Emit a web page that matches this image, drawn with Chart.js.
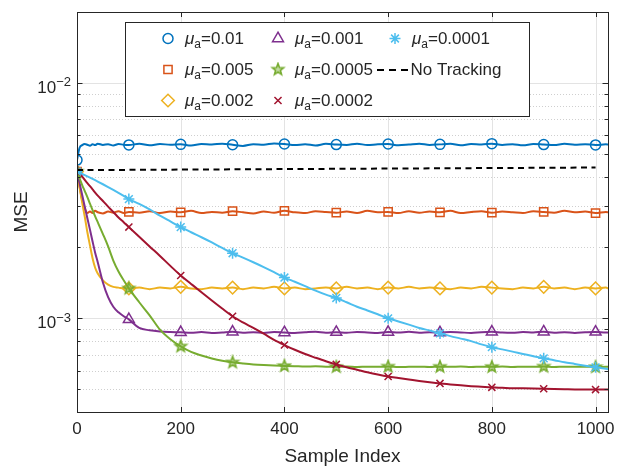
<!DOCTYPE html>
<html>
<head>
<meta charset="utf-8">
<script src="https://cdn.jsdelivr.net/npm/chart.js@4.4.0/dist/chart.umd.min.js"></script>
<style>
  html, body { margin: 0; padding: 0; background: #fff; }
  #wrap { width: 623px; height: 468px; }
</style>
</head>
<body>
<div id="wrap"><canvas id="mse-chart" width="623" height="468"></canvas></div>
<script>
// sample indices the curves were read at
var sampleIdx = [0,5,10,15,20,25,30,35,40,50,60,70,80,90,100,
  120,140,160,180,200,220,240,260,280,300,
  320,340,360,380,400,420,440,460,480,500,
  520,540,560,580,600,620,640,660,680,700,
  720,740,760,780,800,820,840,860,880,900,
  920,940,960,980,1000,1020,1024];

// MSE, in units of 1e-3
var mse_a001 = [4.70,5.30,5.44,5.50,5.46,5.41,5.49,5.44,5.52,5.45,5.49,5.42,5.50,5.46,5.45,
  5.51,5.43,5.50,5.46,5.48,5.42,5.50,5.47,5.52,5.46,
  5.40,5.49,5.46,5.53,5.50,5.44,5.49,5.42,5.51,5.47,
  5.45,5.52,5.44,5.49,5.50,5.43,5.47,5.52,5.45,5.48,
  5.51,5.43,5.50,5.47,5.52,5.45,5.49,5.43,5.50,5.47,
  5.44,5.51,5.46,5.49,5.45,5.48,5.47];
var mse_a0005 = [4.20,3.62,3.18,2.92,2.80,2.84,2.80,2.86,2.82,2.79,2.84,2.81,2.85,2.80,2.83,
  2.81,2.85,2.80,2.84,2.82,2.86,2.80,2.83,2.81,2.85,
  2.82,2.79,2.84,2.81,2.86,2.82,2.80,2.85,2.83,2.81,
  2.84,2.80,2.86,2.82,2.83,2.80,2.85,2.81,2.84,2.82,
  2.86,2.80,2.83,2.85,2.81,2.84,2.82,2.80,2.85,2.83,
  2.81,2.86,2.82,2.84,2.80,2.83,2.82];
var mse_a0002 = [4.20,3.60,3.10,2.70,2.32,2.04,1.80,1.64,1.55,1.45,1.39,1.36,1.35,1.34,1.34,
  1.35,1.33,1.35,1.34,1.36,1.34,1.33,1.35,1.34,1.35,
  1.33,1.35,1.34,1.36,1.34,1.35,1.33,1.34,1.35,1.34,
  1.36,1.34,1.35,1.33,1.35,1.34,1.36,1.34,1.35,1.34,
  1.33,1.35,1.34,1.36,1.35,1.34,1.33,1.35,1.34,1.36,
  1.34,1.35,1.33,1.35,1.34,1.35,1.34];
var mse_a0001 = [4.20,3.75,3.34,2.98,2.66,2.38,2.12,1.90,1.73,1.42,1.23,1.12,1.06,1.02,0.99,
  0.91,0.89,0.88,0.875,0.872,0.868,0.874,0.866,0.871,0.876,
  0.869,0.873,0.867,0.875,0.870,0.866,0.872,0.877,0.869,0.873,
  0.868,0.875,0.871,0.866,0.874,0.870,0.876,0.868,0.872,0.869,
  0.875,0.871,0.867,0.873,0.876,0.870,0.868,0.874,0.871,0.877,
  0.869,0.873,0.867,0.872,0.875,0.870,0.871];
var mse_a00005 = [4.20,3.93,3.68,3.47,3.27,3.07,2.88,2.71,2.56,2.28,2.02,1.76,1.58,1.45,1.34,
  1.17,1.03,0.895,0.815,0.76,0.72,0.695,0.675,0.66,0.65,
  0.643,0.637,0.633,0.630,0.628,0.626,0.624,0.625,0.623,0.622,
  0.624,0.621,0.623,0.622,0.624,0.621,0.622,0.623,0.621,0.623,
  0.622,0.624,0.621,0.623,0.622,0.624,0.621,0.623,0.622,0.624,
  0.621,0.623,0.622,0.623,0.621,0.622,0.622];
var mse_a00002 = [4.20,4.10,4.00,3.87,3.75,3.64,3.53,3.42,3.32,3.15,2.98,2.83,2.68,2.56,2.44,
  2.22,2.02,1.84,1.67,1.52,1.40,1.29,1.19,1.10,1.02,
  0.96,0.91,0.86,0.81,0.77,0.735,0.705,0.68,0.657,0.637,
  0.62,0.605,0.59,0.577,0.566,0.558,0.55,0.542,0.535,0.529,
  0.524,0.519,0.515,0.512,0.509,0.507,0.505,0.504,0.503,0.502,
  0.501,0.500,0.499,0.499,0.498,0.498,0.498];
var mse_a00001 = [4.20,4.16,4.11,4.06,4.01,3.96,3.91,3.86,3.81,3.71,3.61,3.51,3.41,3.31,3.21,
  3.06,2.90,2.73,2.58,2.44,2.32,2.21,2.10,1.99,1.89,
  1.81,1.73,1.65,1.57,1.49,1.43,1.37,1.31,1.26,1.22,
  1.17,1.12,1.08,1.04,1.00,0.97,0.94,0.91,0.888,0.863,
  0.84,0.82,0.80,0.775,0.754,0.738,0.722,0.705,0.69,0.676,
  0.664,0.651,0.64,0.629,0.619,0.61,0.608];

// "No Tracking" reference line
var noTrackIdx = [0, 1000];
var noTrackMse = [4.26, 4.37];

var stepLabels = ['0.01', '0.005', '0.002', '0.001', '0.0005', '0.0002', '0.0001'];
var xTicks = [0, 200, 400, 600, 800, 1000];
var yMajor = [1e-3, 1e-2];
var yExp = ['\u22123', '\u22122'];

var FONT = '"Liberation Sans", Arial, Helvetica, sans-serif';
var TXT = '#262626';

function makePentagram(r, color) {
  var c = document.createElement('canvas');
  var s = Math.ceil(r * 2 + 4);
  c.width = s; c.height = s;
  var g = c.getContext('2d');
  g.beginPath();
  for (var k = 0; k < 10; k++) {
    var rr = k % 2 === 0 ? r : r * 0.42;
    var a = -Math.PI / 2 + k * Math.PI / 5;
    var px = s / 2 + rr * Math.cos(a), py = s / 2 + rr * Math.sin(a);
    if (k === 0) g.moveTo(px, py); else g.lineTo(px, py);
  }
  g.closePath();
  g.fillStyle = 'rgba(119,172,48,0.45)';
  g.fill();
  g.lineWidth = 1.6;
  g.strokeStyle = color;
  g.stroke();
  return c;
}

var colors = ['#0072BD', '#D95319', '#EDB120', '#7E2F8E', '#77AC30', '#A2142F', '#4DBEEE'];
var starImg = makePentagram(6, colors[4]);
var styles = ['circle', 'rect', 'rectRot', 'triangle', starImg, 'crossRot', 'star'];
var radii = [5, 5.8, 6.3, 6.3, 6, 5, 5.5];
var seriesData = [mse_a001, mse_a0005, mse_a0002, mse_a0001, mse_a00005, mse_a00002, mse_a00001];

var datasets = seriesData.map(function (vals, i) {
  return {
    label: '\u03bc_a=' + stepLabels[i],
    data: sampleIdx.map(function (x, j) { return { x: x, y: vals[j] * 1e-3 }; }),
    borderColor: colors[i],
    borderWidth: 2,
    backgroundColor: 'rgba(0,0,0,0)',
    pointStyle: styles[i],
    pointBorderColor: colors[i],
    pointBackgroundColor: 'rgba(0,0,0,0)',
    pointBorderWidth: 1.5,
    pointRadius: function (ctx) {
      var s = sampleIdx[ctx.dataIndex];
      return (s % 100 === 0 && s <= 1000) ? radii[i] : 0;
    },
    cubicInterpolationMode: 'monotone',
    fill: false,
    order: 10 - i
  };
});
datasets.push({
  label: 'No Tracking',
  data: noTrackIdx.map(function (x, j) { return { x: x, y: noTrackMse[j] * 1e-3 }; }),
  borderColor: '#000000',
  borderWidth: 2,
  borderDash: [6, 4.5],
  pointRadius: 0,
  fill: false,
  order: 1
});

// grid, inner ticks, box and y labels drawn MATLAB-style
var axesDeco = {
  id: 'axesDeco',
  beforeDatasetsDraw: function (chart) {
    var ctx = chart.ctx, a = chart.chartArea;
    var xs = chart.scales.x, ys = chart.scales.y;
    ctx.save();
    ctx.lineWidth = 1;
    // minor dotted grid
    ctx.strokeStyle = '#cfcfcf';
    ctx.setLineDash([1, 2]);
    [1e-4, 1e-3, 1e-2].forEach(function (d) {
      for (var k = 2; k <= 9; k++) {
        var v = k * d;
        if (v <= ys.min * 1.0001 || v >= ys.max * 0.9999) continue;
        var py = Math.round(ys.getPixelForValue(v)) + 0.5;
        ctx.beginPath(); ctx.moveTo(a.left, py); ctx.lineTo(a.right, py); ctx.stroke();
      }
    });
    // major solid grid
    ctx.setLineDash([]);
    ctx.strokeStyle = '#e3e3e3';
    yMajor.forEach(function (v) {
      var py = Math.round(ys.getPixelForValue(v)) + 0.5;
      ctx.beginPath(); ctx.moveTo(a.left, py); ctx.lineTo(a.right, py); ctx.stroke();
    });
    xTicks.forEach(function (v) {
      if (v === 0) return;
      var px = Math.round(xs.getPixelForValue(v)) + 0.5;
      ctx.beginPath(); ctx.moveTo(px, a.top); ctx.lineTo(px, a.bottom); ctx.stroke();
    });
    ctx.restore();
  },
  afterDatasetsDraw: function (chart) {
    var ctx = chart.ctx, a = chart.chartArea;
    var xs = chart.scales.x, ys = chart.scales.y;
    ctx.save();
    ctx.strokeStyle = TXT;
    ctx.lineWidth = 1;
    ctx.beginPath();
    // x ticks, bottom and top
    xTicks.forEach(function (v) {
      var px = Math.round(xs.getPixelForValue(v)) + 0.5;
      ctx.moveTo(px, a.bottom); ctx.lineTo(px, a.bottom - 5);
      ctx.moveTo(px, a.top); ctx.lineTo(px, a.top + 5);
    });
    // y ticks, left and right
    [1e-4, 1e-3, 1e-2].forEach(function (d) {
      for (var k = 1; k <= 9; k++) {
        var v = k * d;
        if (v <= ys.min * 1.0001 || v >= ys.max * 0.9999) continue;
        var len = k === 1 ? 5.5 : 3.5;
        var py = Math.round(ys.getPixelForValue(v)) + 0.5;
        ctx.moveTo(a.left, py); ctx.lineTo(a.left + len, py);
        ctx.moveTo(a.right, py); ctx.lineTo(a.right - len, py);
      }
    });
    ctx.stroke();
    ctx.strokeRect(Math.round(a.left) + 0.5, Math.round(a.top) + 0.5,
      Math.round(a.right - a.left), Math.round(a.bottom - a.top));
    // y labels 10^n
    ctx.fillStyle = TXT;
    ctx.textAlign = 'right';
    ctx.textBaseline = 'alphabetic';
    yMajor.forEach(function (v, i) {
      var py = ys.getPixelForValue(v);
      ctx.font = '13px ' + FONT;
      var ew = ctx.measureText(yExp[i]).width;
      ctx.fillText(yExp[i], a.left - 6, py + 3.5);
      ctx.font = '17px ' + FONT;
      ctx.fillText('10', a.left - 6 - ew, py + 10);
    });
    ctx.restore();
  },
  afterDraw: function (chart) {
    var ctx = chart.ctx;
    var box = { l: 125, t: 22, r: 529, b: 116 };
    ctx.save();
    ctx.fillStyle = '#ffffff';
    ctx.fillRect(box.l, box.t, box.r - box.l, box.b - box.t);
    ctx.strokeStyle = TXT;
    ctx.lineWidth = 1;
    ctx.strokeRect(box.l + 0.5, box.t + 0.5, box.r - box.l, box.b - box.t);

    var colX = [168, 278, 395];
    var rowY = [38.5, 69.5, 100.5];
    var items = datasets.length;
    for (var i = 0; i < items; i++) {
      var col = Math.floor(i / 3), row = i % 3;
      var mx = colX[col], my = rowY[row];
      var tx = mx + 17;
      if (i < 7) {
        ctx.save();
        ctx.strokeStyle = colors[i];
        ctx.fillStyle = 'rgba(0,0,0,0)';
        ctx.lineWidth = 1.5;
        Chart.helpers.drawPoint(ctx, { pointStyle: styles[i], radius: radii[i], rotation: 0, borderWidth: 1.5 }, mx, my);
        ctx.restore();
        // mu with subscript a
        ctx.fillStyle = TXT;
        ctx.textAlign = 'left';
        ctx.textBaseline = 'alphabetic';
        ctx.font = 'italic 17px ' + FONT;
        ctx.fillText('\u03bc', tx, my + 5);
        var w = ctx.measureText('\u03bc').width;
        ctx.font = '12px ' + FONT;
        ctx.fillText('a', tx + w, my + 9.5);
        var w2 = ctx.measureText('a').width;
        ctx.font = '17px ' + FONT;
        ctx.fillText('=' + stepLabels[i], tx + w + w2, my + 5);
      } else {
        ctx.save();
        ctx.strokeStyle = '#000';
        ctx.lineWidth = 2;
        ctx.setLineDash([7, 5]);
        ctx.beginPath(); ctx.moveTo(377, my + 0.5); ctx.lineTo(408, my + 0.5); ctx.stroke();
        ctx.restore();
        ctx.fillStyle = TXT;
        ctx.textAlign = 'left';
        ctx.textBaseline = 'alphabetic';
        ctx.font = '17px ' + FONT;
        ctx.fillText('No Tracking', 410.5, my + 5);
      }
    }
    ctx.restore();
  }
};

var chart = new Chart(document.getElementById('mse-chart').getContext('2d'), {
  type: 'line',
  data: { datasets: datasets },
  options: {
    responsive: false,
    animation: false,
    devicePixelRatio: 1,
    layout: { padding: { top: 12, right: 15, left: 0, bottom: 0 } },
    plugins: { legend: { display: false }, tooltip: { enabled: false } },
    elements: { line: { tension: 0 } },
    scales: {
      x: {
        type: 'linear',
        min: 0,
        max: 1024,
        grid: { display: false, drawTicks: false },
        border: { display: false },
        afterBuildTicks: function (scale) {
          scale.ticks = xTicks.map(function (v) { return { value: v }; });
        },
        afterFit: function (scale) { scale.height = 56; },
        ticks: {
          padding: 7,
          maxRotation: 0,
          color: TXT,
          font: { family: FONT, size: 17 },
          callback: function (v) { return String(v); }
        },
        title: {
          display: true,
          text: 'Sample Index',
          color: TXT,
          font: { family: FONT, size: 19 },
          padding: { top: 0, bottom: 0 }
        }
      },
      y: {
        type: 'logarithmic',
        min: 4e-4,
        max: 2e-2,
        grid: { display: false, drawTicks: false },
        border: { display: false },
        afterBuildTicks: function (scale) {
          scale.ticks = yMajor.map(function (v) { return { value: v }; });
        },
        afterFit: function (scale) { scale.width = 77; },
        ticks: { display: false },
        title: {
          display: true,
          text: 'MSE',
          color: TXT,
          font: { family: FONT, size: 19 },
          padding: { top: 10, bottom: 0 }
        }
      }
    }
  },
  plugins: [axesDeco]
});
</script>
</body>
</html>
